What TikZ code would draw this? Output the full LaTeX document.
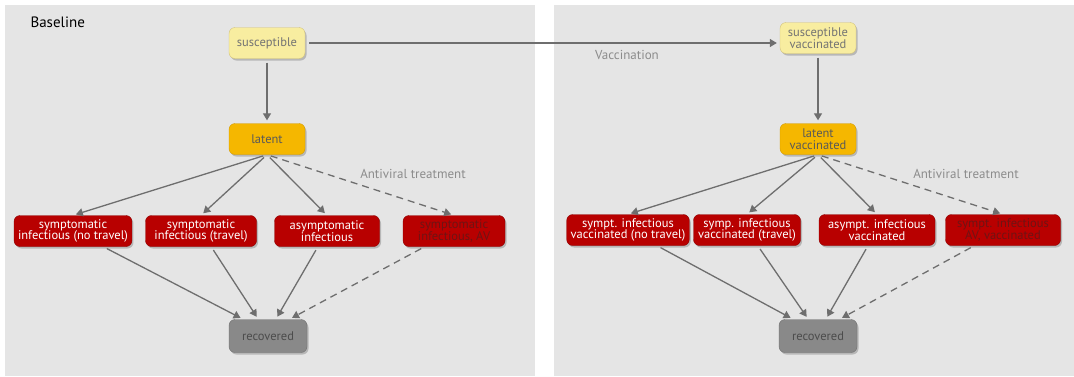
\documentclass[tikz,border=0pt]{standalone}
\usepackage{fontspec}
\setmainfont{PT Sans}
\usetikzlibrary{arrows.meta}
\usetikzlibrary{shadows}

\definecolor{panelgray}{HTML}{E5E5E5}
\definecolor{suscfill}{HTML}{F8EDA0}
\definecolor{suscline}{HTML}{D2C27A}
\definecolor{latfill}{HTML}{F5B700}
\definecolor{latline}{HTML}{D39A00}
\definecolor{infred}{HTML}{B80000}
\definecolor{infline}{HTML}{8E0000}
\definecolor{avtext}{HTML}{6E1414}
\definecolor{recfill}{HTML}{898989}
\definecolor{recline}{HTML}{707070}
\definecolor{arrowgray}{HTML}{6E6E6E}
\definecolor{labelgray}{HTML}{8C8C8C}

\tikzset{
  box/.style={rectangle,rounded corners=6pt,draw,thin,align=center,
    inner xsep=4pt,minimum height=31pt,font=\fontsize{12.5}{11.5}\selectfont,
    drop shadow={shadow xshift=1.5pt,shadow yshift=-2pt,opacity=0.45}},
  susbox/.style={box,fill=suscfill,draw=suscline,text=black!55,minimum width=76pt},
  latbox/.style={box,fill=latfill,draw=latline,text=black!65,minimum width=76pt},
  infbox/.style={box,fill=infred,draw=infline,text=white},
  avbox/.style={infbox,text=avtext},
  recbox/.style={box,fill=recfill,draw=recline,text=black!70,minimum width=78pt,minimum height=33pt},
  avdash/.style={dash pattern=on 7pt off 5pt},
}

\begin{document}
\begin{tikzpicture}[x=1pt,y=-1pt]
\useasboundingbox (0,0) rectangle (1074,376);
\fill[panelgray] (5,5) rectangle (535,376);
\fill[panelgray] (554,5) rectangle (1074,376);
\node[anchor=west,font=\fontsize{15}{15}\selectfont] (title) at (27,22) {Baseline};

% baseline states
\node[susbox] (sus) at (267,43) {susceptible};
\node[latbox] (lat) at (267,139) {latent};
\node[infbox,minimum width=115pt] (snt) at (73,231) {symptomatic\\infectious (no travel)};
\node[infbox,minimum width=111pt] (st) at (201,231) {symptomatic\\infectious (travel)};
\node[infbox,minimum width=105pt] (asy) at (327,231) {asymptomatic\\infectious};
\node[avbox,minimum width=102pt] (sav) at (454,231) {symptomatic\\infectious, AV};
\node[recbox] (rec) at (268,336) {recovered};

% vaccinated states
\node[susbox] (vsus) at (818,38) {susceptible\\vaccinated};
\node[latbox] (vlat) at (818,139) {latent\\vaccinated};
\node[infbox,minimum width=120pt] (vsnt) at (628,230) {sympt. infectious\\vaccinated (no travel)};
\node[infbox,minimum width=107pt] (vst) at (747,230) {symp. infectious\\vaccinated (travel)};
\node[infbox,minimum width=116pt] (vasy) at (877,230) {asympt. infectious\\vaccinated};
\node[avbox,minimum width=115pt] (vsav) at (1003,230) {sympt. infectious\\AV, vaccinated};
\node[recbox] (vrec) at (818,336) {recovered};

\begin{scope}[>={Triangle[length=7pt,width=8pt]},
              every node/.style={text=labelgray,font=\fontsize{13}{13}\selectfont},
              every edge/.style={draw=arrowgray,line width=1.3pt,shorten >=3pt,shorten <=4pt}]
    \path [->] (sus.east) edge (sus.east -| vsus.west);
    \node (vacc) at (627,55) {Vaccination};
    \node (avl) at (413,174) {Antiviral treatment};
    \node (vavl) at (966,174) {Antiviral treatment};

    \path [->] (sus) edge (lat);
    \path [->] (lat.south) edge (snt.north);
    \path [->] (lat.south) edge (st.north);
    \path [->] (lat.south) edge (asy.north);
    \path [->] (lat.south) edge[avdash] (sav.north);
    \path [->] (snt) edge (rec.146);
    \path [->] (st) edge (rec.120);
    \path [->] (asy) edge (rec.65);
    \path [->] (sav) edge[avdash] (rec.38);

    \path [->] (vsus) edge (vlat);
    \path [->] (vlat.south) edge (vsnt.north);
    \path [->] (vlat.south) edge (vst.north);
    \path [->] (vlat.south) edge (vasy.north);
    \path [->] (vlat.south) edge[avdash] (vsav.north);
    \path [->] (vsnt) edge (vrec.146);
    \path [->] (vst) edge (vrec.120);
    \path [->] (vasy) edge (vrec.65);
    \path [->] (vsav) edge[avdash] (vrec.38);
\end{scope}

\end{tikzpicture}
\end{document}
